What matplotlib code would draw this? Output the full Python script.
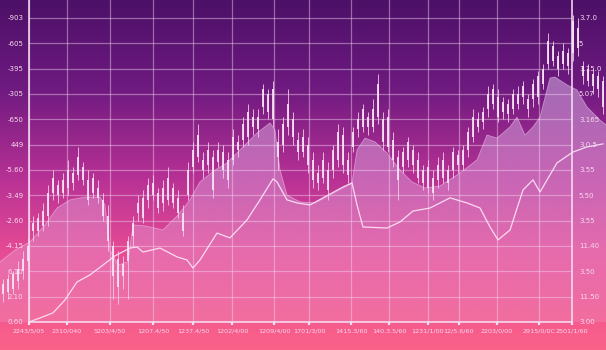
import numpy as np
import matplotlib
matplotlib.use("Agg")
import matplotlib.pyplot as plt
from matplotlib.colors import to_rgb

# ---------------- data ----------------
c_open = [11, 12, 13, 16, 20, 24, 36, 36, 38, 42, 51, 54, 51, 53, 59, 58, 61, 56, 51, 53,
          48, 42, 30, 25, 18, 24, 34, 43, 41, 48, 50, 51, 47, 48, 53, 49, 43, 50, 61, 65,
          64, 62, 65, 63, 67, 64, 64, 71, 72, 73, 81, 76, 85, 90, 80, 71, 70, 77, 80, 72,
          67, 70, 64, 59, 57, 60, 60, 64, 62, 64, 69, 76, 77, 81, 77, 81, 80, 69, 72, 65,
          61, 64, 68, 64, 60, 53, 57, 56, 57, 60, 60, 66, 62, 68, 73, 80, 79, 84, 86, 89,
          87, 86, 84, 86, 89, 88, 88, 89, 94, 102, 109, 105, 102, 106, 106, 108, 101, 100, 98, 97, 95]
c_close = [15, 17, 19, 21, 25, 30, 39, 41, 44, 51, 57, 50, 56, 60, 55, 65, 56, 48, 57, 49,
           42, 32, 18, 14, 23, 32, 39, 47, 49, 54, 55, 45, 53, 57, 47, 43, 36, 60, 68, 74,
           60, 68, 52, 68, 60, 56, 73, 68, 78, 83, 77, 81, 92, 83, 92, 65, 78, 86, 73, 67,
           73, 62, 56, 55, 64, 52, 68, 75, 74, 58, 75, 80, 84, 77, 84, 94, 71, 81, 64, 56,
           67, 71, 62, 57, 55, 61, 51, 62, 64, 55, 67, 62, 68, 75, 81, 77, 83, 90, 92, 81,
           83, 82, 90, 90, 93, 84, 94, 97, 100, 111, 103, 100, 107, 101, 119, 116, 97, 95, 93, 92, 85]
c_high = [17, 19, 20, 24, 28, 33, 42, 43, 47, 54, 60, 56, 59, 64, 61, 69, 63, 60, 59, 56,
          51, 46, 32, 28, 26, 34, 42, 50, 52, 57, 58, 53, 56, 61, 55, 52, 46, 63, 71, 78,
          67, 71, 68, 71, 70, 67, 76, 74, 81, 86, 84, 84, 94, 92, 95, 76, 81, 92, 83, 75,
          76, 73, 67, 62, 67, 63, 70, 78, 77, 67, 77, 83, 86, 83, 88, 98, 83, 84, 75, 68,
          69, 73, 70, 67, 62, 64, 60, 65, 67, 62, 69, 68, 70, 77, 84, 83, 85, 93, 94, 92,
          89, 88, 92, 93, 95, 90, 96, 99, 102, 114, 111, 107, 110, 108, 121, 120, 103, 102, 100, 99, 97]
c_low = [8, 9, 11, 13, 17, 21, 32, 34, 36, 38, 48, 47, 49, 50, 52, 56, 54, 46, 49, 47,
         40, 28, 9, 7, 13, 9, 30, 40, 39, 45, 48, 43, 44, 46, 45, 41, 34, 48, 59, 63,
         57, 59, 49, 61, 57, 53, 62, 65, 69, 70, 74, 73, 82, 80, 77, 60, 67, 74, 70, 64,
         65, 59, 53, 52, 55, 48, 57, 61, 59, 55, 67, 73, 75, 74, 75, 78, 68, 67, 61, 48,
         59, 61, 59, 55, 52, 51, 48, 53, 55, 52, 57, 59, 60, 65, 71, 75, 76, 81, 84, 79,
         80, 79, 82, 84, 86, 81, 85, 86, 92, 100, 101, 97, 100, 98, 103, 105, 94, 93, 90, 89, 82]

area_x = [-0.6, 2.4, 5.4, 8.4, 10.8, 13.4, 16.4, 19.4, 20.4, 21.4, 23, 25, 26, 28.4, 29.4,
          32, 33.4, 35, 37.4, 39.4, 42.4, 44.8, 47.8, 50.8, 53.4, 54.4, 55.4, 56.8, 59.4,
          62.4, 65.4, 68.4, 69.8, 70.8, 72.4, 74.4, 76.8, 79.4, 81.8, 84.4, 87.4, 91.4,
          94.8, 96.8, 98.8, 101.4, 102.8, 104.4, 106, 107.4, 109.4, 110.4, 112.8, 114.8,
          116.8, 119.4, 120.6]
area_y = [23.7, 28.4, 31.6, 38.3, 45.0, 48.2, 49.3, 49.3, 46.2, 28.4, 22.5, 23.7, 38.3,
          37.9, 37.5, 36.3, 39.1, 42.2, 48.2, 55.3, 60.0, 62.8, 68.7, 74.6, 78.6, 75.8,
          60.0, 50.1, 47.4, 47.0, 50.1, 53.3, 54.9, 67.9, 72.6, 71.1, 66.7, 60.0, 55.3,
          52.9, 53.7, 58.8, 64.0, 73.8, 72.6, 77.0, 80.9, 73.8, 77.0, 80.9, 96.3, 96.7,
          93.6, 91.6, 84.9, 79.7, 77.8]

trend_x = [5.2, 7.4, 10, 12.4, 14.8, 17.4, 20, 22.4, 25.4, 26.8, 28, 31.4, 34.8, 36.8, 38,
           39.4, 42.8, 45.4, 48.8, 51.4, 54, 54.8, 56.8, 58.8, 61.4, 64, 68, 69.8, 70.8, 72,
           76.8, 79.4, 82, 85.4, 89.4, 92.8, 95.4, 97.4, 99, 101.4, 104, 106, 107.4, 110.8,
           114, 116.8, 120]
trend_y = [0, 1.6, 3.6, 8.7, 15.8, 18.6, 22.5, 26.1, 29.2, 29.6, 27.6, 29.2, 25.7, 24.5,
           21.3, 24.5, 35.1, 33.2, 40.3, 48.2, 56.5, 55.3, 48.2, 47.0, 46.2, 49.0, 53.3,
           54.9, 46.2, 37.5, 37.1, 39.5, 43.8, 45.0, 49.0, 47.0, 45.0, 37.5, 32.4, 36.3,
           52.1, 56.1, 51.3, 62.8, 67.1, 69.1, 70.3]

date_ticks = [5.2, 12.8, 21.4, 30, 38, 45.8, 54.2, 61.2, 69.6, 77.2, 85, 91.2, 98.8, 107.2, 113.8]
date_labels = ["2243/5/05", "2310/040", "5203/4/50", "1207.4/50", "1237.4/50", "1202/4/00",
               "1209/4/00", "1701/3/00", "1415.3/60", "140.3.5/60", "1231/1/00", "12/5.6/60",
               "2203/0/00", "2915/0/0C", "2501/1/60"]
level_ticks = [0, 10, 20, 30, 40, 50, 60, 70, 80, 90, 100, 110, 120]
left_labels = ["0.60", "2.10", "6.10", "-4.15", "-2.60", "-3.49", "-5.60", "449", "-650",
               "-305", "-395", "-605", "-903"]
right_labels = ["3.00", "11.50", "3.50", "11.40", "3.55", "5.50", "3.55", "3.0.5", "3.165",
                "5.07", "3.15.0", "5", "3.7.0"]

# ---------------- figure ----------------
fig = plt.figure(figsize=(6.06, 3.5), dpi=100)

bg = fig.add_axes([0, 0, 1, 1], zorder=0)
stops = [0.0, 0.25, 0.5, 0.72, 1.0]
cols = ['#4c1067', '#6e1a80', '#b53094', '#e64b95', '#fb6289']
rgb = np.array([to_rgb(c) for c in cols])
t = np.linspace(0, 1, 350)
grad = np.stack([np.interp(t, stops, rgb[:, k]) for k in range(3)], axis=-1)[:, None, :]
bg.imshow(grad, aspect='auto', extent=[0, 1, 0, 1], origin='upper')
bg.set_axis_off()

ax = fig.add_axes([29 / 606, 28 / 350, 543 / 606, 322 / 350], zorder=1)
ax.patch.set_alpha(0)
ax.set_xlim(5.2, 113.8)
ax.set_ylim(0, 127.1)

txt = '#f7d9f0'
line_c = '#f8e2f6'

# area with vertical fade
poly = ax.fill_between(area_x, area_y, 0, facecolor='none', lw=0, zorder=1)
ar = np.zeros((200, 1, 4))
ar[..., :3] = to_rgb('#e9c6f3')
ar[:, 0, 3] = np.linspace(0.58, 0.18, 200)
im = ax.imshow(ar, aspect='auto', extent=[area_x[0], area_x[-1], 0, 127.1],
               origin='upper', zorder=1, interpolation='bilinear')
im.set_clip_path(poly.get_paths()[0], transform=ax.transData)
im.set_clip_box(fig.bbox)
ax.set_xlim(5.2, 113.8)
ax.set_ylim(0, 127.1)
ax.plot(area_x, area_y, color='#f3d6f6', lw=0.6, alpha=0.5, zorder=1.2, clip_on=False)

# grid
ax.set_xticks(date_ticks)
ax.set_xticklabels(date_labels)
ax.set_yticks(level_ticks)
ax.set_yticklabels(left_labels)
ax.grid(True, color='#f4d6f2', alpha=0.45, lw=0.9, zorder=1.5)

# trend line
ax.plot(trend_x, trend_y, color='#fde8f8', lw=0.9, alpha=0.9, zorder=2.5, clip_on=False)

# candles
idx = np.arange(len(c_open))
lo = np.minimum(c_open, c_close)
hi = np.maximum(c_open, c_close)
ax.vlines(idx, c_low, c_high, color='#f5cdea', lw=0.7, alpha=0.85, zorder=3, clip_on=False)
bars = ax.bar(idx, hi - lo, bottom=lo, width=0.55, color='#fbe6f6', alpha=0.88, lw=0, zorder=4)
for b in bars:
    b.set_clip_on(False)

# spines & ticks
for s in ['left', 'bottom', 'right']:
    ax.spines[s].set_color(line_c)
    ax.spines[s].set_linewidth(1.3)
    ax.spines[s].set_alpha(0.85)
ax.spines['top'].set_visible(False)
ax.tick_params(axis='x', colors=line_c, length=2.5, width=1.6, pad=2, labelsize=4.6,
               labelcolor=txt)
ax.tick_params(axis='y', length=0, pad=4, labelsize=5, labelcolor=txt)

ax2 = ax.twinx()
ax2.set_ylim(0, 127.1)
ax2.set_yticks(level_ticks)
ax2.set_yticklabels(right_labels)
ax2.tick_params(axis='y', length=0, pad=5, labelsize=5, labelcolor=txt)
for s in ['left', 'bottom', 'top', 'right']:
    ax2.spines[s].set_visible(False)
ax2.patch.set_alpha(0)

fig.savefig('out.png', dpi=100)
